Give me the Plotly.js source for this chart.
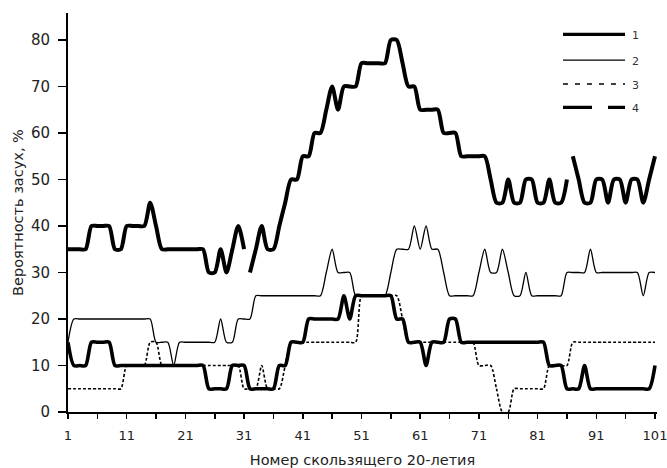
<!DOCTYPE html>
<html><head><meta charset="utf-8">
<script src="https://cdn.plot.ly/plotly-3.0.1.min.js"></script>
<style>html,body{margin:0;padding:0;background:#fff}</style>
</head><body><div id="chart" style="width:667px;height:468px"></div>
<script>
// Probability of droughts (%) for each sliding 20-year window, 1..101
const series1 = [35,35,35,35,40,40,40,40,35,35,
  40,40,40,40,45,40,35,35,35,35,
  35,35,35,35,30,30,35,30,35,40,
  35,30,35,40,35,35,40,45,50,50,
  55,55,60,60,65,70,65,70,70,70,
  75,75,75,75,75,80,80,75,70,70,
  65,65,65,65,60,60,60,55,55,55,
  55,55,50,45,45,50,45,45,50,50,
  45,45,50,45,45,50,55,50,45,45,
  50,50,45,50,50,45,50,50,45,50,
  55];
const series1Breaks = [31, 86]; // line of series 1 is interrupted after these windows

const series2 = [15,20,20,20,20,20,20,20,20,20,
  20,20,20,20,20,15,15,15,10,15,
  15,15,15,15,15,15,20,15,15,20,
  20,20,25,25,25,25,25,25,25,25,
  25,25,25,25,30,35,30,30,30,25,
  25,25,25,25,25,30,35,35,35,40,
  35,40,35,35,30,25,25,25,25,25,
  30,35,30,30,35,30,25,25,30,25,
  25,25,25,25,25,30,30,30,30,35,
  30,30,30,30,30,30,30,30,25,30,
  30];

const series3 = [5,5,5,5,5,5,5,5,5,5,
  10,10,10,10,15,15,10,10,10,10,
  10,10,10,10,10,10,10,10,10,10,
  5,5,5,10,5,5,5,10,15,15,
  15,15,15,15,15,15,15,15,15,15,
  25,25,25,25,25,25,25,20,15,15,
  15,15,15,15,15,15,15,15,15,15,
  10,10,10,5,0,0,5,5,5,5,
  5,5,10,10,10,10,15,15,15,15,
  15,15,15,15,15,15,15,15,15,15,
  15];

const series4 = [15,10,10,10,15,15,15,15,10,10,
  10,10,10,10,10,10,10,10,10,10,
  10,10,10,10,5,5,5,5,10,10,
  10,5,5,5,5,5,10,10,15,15,
  15,20,20,20,20,20,20,25,20,25,
  25,25,25,25,25,25,20,20,15,15,
  15,10,15,15,15,20,20,15,15,15,
  15,15,15,15,15,15,15,15,15,15,
  15,15,10,10,10,5,5,5,10,5,
  5,5,5,5,5,5,5,5,5,5,
  10];

const seriesNames = ['1', '2', '3', '4'];
const xTickVals = [1, 11, 21, 31, 41, 51, 61, 71, 81, 91, 101];
const yTickVals = [0, 10, 20, 30, 40, 50, 60, 70, 80];
const xTitle = 'Номер скользящего 20-летия';
const yTitle = 'Вероятность засух, %';

const windows = series1.map((_, i) => i + 1);

const SM = 0.75;
const thick = {color: '#000', width: 4, shape: 'spline', smoothing: SM};
const traces = [];

traces.push({x: windows, y: series2, mode: 'lines', name: seriesNames[1], showlegend: false,
  line: {color: '#000', width: 1.3, shape: 'spline', smoothing: SM}});
traces.push({x: windows, y: series3, mode: 'lines', name: seriesNames[2], showlegend: false,
  line: {color: '#000', width: 1.6, dash: '3px,2px', shape: 'spline', smoothing: SM}});
traces.push({x: windows, y: series4, mode: 'lines', name: seriesNames[3], showlegend: false,
  line: Object.assign({}, thick, {width: 3.6})});

// series 1, split into its separate pieces
let start = 0;
const cuts = series1Breaks.map(b => windows.indexOf(b) + 1).concat([windows.length]);
cuts.forEach(end => {
  traces.push({x: windows.slice(start, end), y: series1.slice(start, end), mode: 'lines',
    name: seriesNames[0], showlegend: false, line: thick});
  start = end;
});

// custom legend (line samples + labels), paper coordinates
const legX0 = 0.8404, legX1 = 0.9457, legLabelX = 0.9542;
const legY = [0.9466, 0.8821, 0.8219, 0.7635];
const legStyles = [
  {color: '#000', width: 3.2},
  {color: '#000', width: 1.3},
  {color: '#000', width: 1.5, dash: '5px,7px'},
  {color: '#000', width: 3.2, dash: '29px,16px'}
];
const shapes = legY.map((y, i) => ({type: 'line', xref: 'paper', yref: 'paper',
  x0: legX0, x1: legX1, y0: y, y1: y, line: legStyles[i]}));
const annotations = legY.map((y, i) => ({xref: 'paper', yref: 'paper', x: legLabelX, y: y - 0.004,
  xanchor: 'left', yanchor: 'middle', showarrow: false, text: seriesNames[i],
  font: {family: 'DejaVu Sans, sans-serif', size: 11, color: '#333'}}));

const layout = {
  width: 667, height: 468,
  margin: {l: 68, r: 10, t: 13, b: 56},
  paper_bgcolor: '#fff', plot_bgcolor: '#fff',
  showlegend: false,
  font: {family: 'DejaVu Sans, sans-serif', color: '#222'},
  xaxis: {
    range: [1, 101.34], showgrid: false, zeroline: false,
    showline: true, linecolor: '#000', linewidth: 2,
    tickmode: 'array', tickvals: xTickVals, ticktext: xTickVals.map(String),
    ticks: 'outside', ticklen: 5, tickwidth: 1.5, tickcolor: '#000',
    ticklabeloverflow: 'allow', ticklabelstandoff: 5,
    minor: {tick0: 6, dtick: 10, ticks: 'outside', ticklen: 5, tickwidth: 1.5, tickcolor: '#000', showgrid: false},
    tickfont: {size: 13, color: '#222'},
    title: {text: xTitle, font: {size: 14.5, color: '#222'}, standoff: 14}
  },
  yaxis: {
    range: [0, 85.8], showgrid: false, zeroline: false,
    showline: true, linecolor: '#000', linewidth: 2,
    tickmode: 'array', tickvals: yTickVals, ticktext: yTickVals.map(String),
    ticks: 'outside', ticklen: 8, tickwidth: 1.5, tickcolor: '#000',
    ticklabelstandoff: 5,
    tickfont: {size: 15, color: '#222'},
    title: {text: yTitle, font: {size: 14.5, color: '#222'}, standoff: 4}
  },
  shapes: shapes,
  annotations: annotations
};

Plotly.newPlot('chart', traces, layout, {displayModeBar: false, staticPlot: true});
</script></body></html>
